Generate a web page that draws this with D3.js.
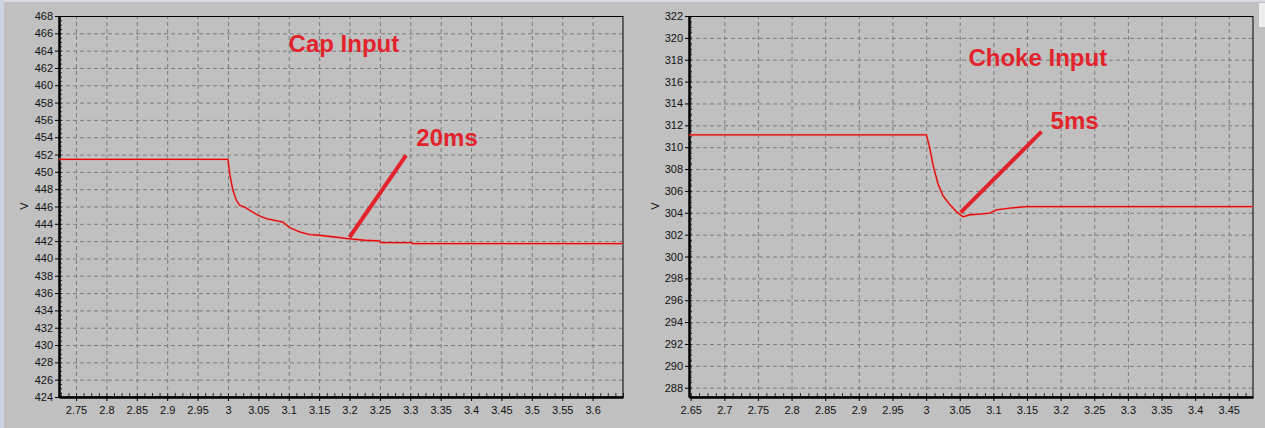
<!DOCTYPE html>
<html>
<head>
<meta charset="utf-8">
<script src="https://cdn.jsdelivr.net/npm/d3@7"></script>
<style>
  html, body { margin: 0; padding: 0; background: #c0c0c0; }
  svg { display: block; }
  text { font-family: "Liberation Sans", Arial, sans-serif; }
</style>
</head>
<body>
<svg id="chart" width="1265" height="428"></svg>
<script>
// ---- Data ----
const capTime = [2.722, 3.0, 3.0028, 3.0082, 3.0138, 3.0192, 3.0275, 3.0357, 3.0493, 3.0631, 3.0904, 3.1014, 3.1179, 3.1343, 3.1508, 3.1754, 3.1968, 3.2248, 3.2494, 3.251, 3.302, 3.3036, 3.65];
const capVolt = [451.45, 451.45, 449.8, 447.87, 446.72, 446.14, 445.94, 445.56, 444.99, 444.61, 444.21, 443.57, 443.06, 442.76, 442.68, 442.48, 442.30, 442.10, 442.02, 441.83, 441.83, 441.72, 441.72];

const chokeTime = [2.6475, 3.0005, 3.0054, 3.0103, 3.0177, 3.0252, 3.0351, 3.0451, 3.0549, 3.0649, 3.0797, 3.0946, 3.1046, 3.1244, 3.1492, 3.486];
const chokeVolt = [311.12, 311.12, 309.93, 308.38, 306.64, 305.55, 304.77, 304.09, 303.63, 303.82, 303.88, 303.97, 304.27, 304.43, 304.57, 304.57];

const capXTicks = [2.75, 2.8, 2.85, 2.9, 2.95, 3, 3.05, 3.1, 3.15, 3.2, 3.25, 3.3, 3.35, 3.4, 3.45, 3.5, 3.55, 3.6];
const capYTicks = [424, 426, 428, 430, 432, 434, 436, 438, 440, 442, 444, 446, 448, 450, 452, 454, 456, 458, 460, 462, 464, 466, 468];
const chokeXTicks = [2.65, 2.7, 2.75, 2.8, 2.85, 2.9, 2.95, 3, 3.05, 3.1, 3.15, 3.2, 3.25, 3.3, 3.35, 3.4, 3.45];
const chokeYTicks = [288, 290, 292, 294, 296, 298, 300, 302, 304, 306, 308, 310, 312, 314, 316, 318, 320, 322];

const capXDomain = [2.722, 3.65];
const capYDomain = [424, 468];
const chokeXDomain = [2.6475, 3.486];
const chokeYDomain = [287.15, 322];

const yLabel = "V";

// Annotations (data coordinates)
const capNotes = ["Cap Input", "20ms"];
const capNoteX = [3.0998, 3.31];
const capNoteY = [463.84, 453.0];
const capPointerX = [3.2, 3.293];
const capPointerY = [442.45, 451.9];

const chokeNotes = ["Choke Input", "5ms"];
const chokeNoteX = [3.063, 3.185];
const chokeNoteY = [317.4, 311.63];
const chokePointerX = [3.0515, 3.1715];
const chokePointerY = [304.03, 311.42];

// ---- Drawing ----
const svg = d3.select("#chart");

// window chrome hints
svg.append("rect").attr("x", 0).attr("y", 0).attr("width", 1265).attr("height", 428).attr("fill", "#c0c0c0");
svg.append("rect").attr("x", 0).attr("y", 0).attr("width", 1265).attr("height", 2).attr("fill", "#d6dae2");
svg.append("rect").attr("x", 0).attr("y", 0).attr("width", 4).attr("height", 428).attr("fill", "#cdd5e2");
svg.append("rect").attr("x", 1259).attr("y", 3).attr("width", 6).attr("height", 24).attr("fill", "#eeeeee");

const panels = [
  { box: {left: 59, right: 623, top: 16, bottom: 397}, time: capTime, volt: capVolt,
    xDomain: capXDomain, yDomain: capYDomain, xTicks: capXTicks, yTicks: capYTicks,
    notes: capNotes, noteX: capNoteX, noteY: capNoteY, px: capPointerX, py: capPointerY, labelX: 24.5 },
  { box: {left: 689, right: 1253, top: 16, bottom: 397}, time: chokeTime, volt: chokeVolt,
    xDomain: chokeXDomain, yDomain: chokeYDomain, xTicks: chokeXTicks, yTicks: chokeYTicks,
    notes: chokeNotes, noteX: chokeNoteX, noteY: chokeNoteY, px: chokePointerX, py: chokePointerY, labelX: 655.5 }
];

const fmt = d => String(+d.toFixed(2));

panels.forEach((p, i) => {
  const b = p.box;
  const w = b.right - b.left, h = b.bottom - b.top;
  const x = d3.scaleLinear().domain(p.xDomain).range([b.left, b.right]);
  const y = d3.scaleLinear().domain(p.yDomain).range([b.bottom, b.top]);

  const g = svg.append("g");

  // plot background
  g.append("rect").attr("x", b.left).attr("y", b.top).attr("width", w).attr("height", h).attr("fill", "#c0c0c0");

  // grid
  const gridX = g.append("g").attr("transform", `translate(0,${b.bottom})`)
    .call(d3.axisBottom(x).tickValues(p.xTicks).tickSize(-h).tickFormat(""));
  const gridY = g.append("g").attr("transform", `translate(${b.left},0)`)
    .call(d3.axisLeft(y).tickValues(p.yTicks).tickSize(-w).tickFormat(""));
  [gridX, gridY].forEach(gg => {
    gg.select(".domain").remove();
    gg.selectAll("line").attr("stroke", "#7c7c7c").attr("stroke-dasharray", "4,3").attr("stroke-width", 1);
  });

  // minor ticks (inside)
  const step = p.xTicks[1] - p.xTicks[0];
  const minorX = [];
  for (let k = Math.ceil(p.xDomain[0] / (step / 4)); k * (step / 4) <= p.xDomain[1]; k++) minorX.push(k * step / 4);
  const mx = g.append("g").attr("transform", `translate(0,${b.bottom})`)
    .call(d3.axisBottom(x).tickValues(minorX).tickSize(-4).tickFormat(""));
  mx.select(".domain").remove();
  mx.selectAll("line").attr("stroke", "#303030");
  const ystep = p.yTicks[1] - p.yTicks[0];
  const minorY = [];
  for (let k = Math.ceil(p.yDomain[0] / (ystep / 4)); k * (ystep / 4) <= p.yDomain[1]; k++) minorY.push(k * ystep / 4);
  const my = g.append("g").attr("transform", `translate(${b.left},0)`)
    .call(d3.axisLeft(y).tickValues(minorY).tickSize(-3).tickFormat(""));
  my.select(".domain").remove();
  my.selectAll("line").attr("stroke", "#303030");

  // top / right border
  g.append("rect").attr("x", b.left + 0.5).attr("y", b.top + 0.5).attr("width", w - 0.5).attr("height", h - 0.5)
    .attr("fill", "none").attr("stroke", "#000").attr("stroke-width", 1);

  // axes
  const ax = g.append("g").attr("transform", `translate(0,${b.bottom})`)
    .call(d3.axisBottom(x).tickValues(p.xTicks).tickSize(4).tickSizeOuter(0).tickFormat(fmt));
  const ay = g.append("g").attr("transform", `translate(${b.left},0)`)
    .call(d3.axisLeft(y).tickValues(p.yTicks).tickSize(4).tickSizeOuter(0).tickFormat(fmt));
  [ax, ay].forEach(a => {
    a.select(".domain").attr("stroke", "#000").attr("stroke-width", 2.5);
    a.selectAll(".tick line").attr("stroke", "#000");
    a.selectAll(".tick text").attr("fill", "#111").attr("font-size", 11)
      .attr("font-family", "'Liberation Sans', Arial, sans-serif");
  });
  ax.selectAll(".tick text").attr("dy", "0.95em").attr("y", 7);
  ay.selectAll(".tick text").attr("x", -6);

  // y label
  g.append("text").attr("transform", `translate(${p.labelX + 3.5},206) rotate(-90)`)
    .attr("text-anchor", "middle").attr("font-size", 11).attr("fill", "#111").text(yLabel);

  // clip
  const clipId = "clip" + i;
  svg.append("clipPath").attr("id", clipId).append("rect")
    .attr("x", b.left).attr("y", b.top).attr("width", w).attr("height", h);

  // data line
  const pts = p.time.map((t, k) => [t, p.volt[k]]);
  const line = d3.line().x(d => x(d[0])).y(d => y(d[1]));
  g.append("path").datum(pts).attr("clip-path", `url(#${clipId})`)
    .attr("d", line).attr("fill", "none").attr("stroke", "#f08080").attr("stroke-width", 2.4).attr("stroke-opacity", 0.55);
  g.append("path").datum(pts).attr("clip-path", `url(#${clipId})`)
    .attr("d", line).attr("fill", "none").attr("stroke", "#e00a0a").attr("stroke-width", 1.3);

  // pointer line
  g.append("line")
    .attr("x1", x(p.px[0])).attr("y1", y(p.py[0]))
    .attr("x2", x(p.px[1])).attr("y2", y(p.py[1]))
    .attr("stroke", "#e3232c").attr("stroke-width", 4);

  // notes
  p.notes.forEach((t, k) => {
    g.append("text").attr("x", x(p.noteX[k])).attr("y", y(p.noteY[k]))
      .attr("font-size", 24).attr("font-weight", "bold").attr("fill", "#e3232c").text(t);
  });
});
</script>
</body>
</html>
